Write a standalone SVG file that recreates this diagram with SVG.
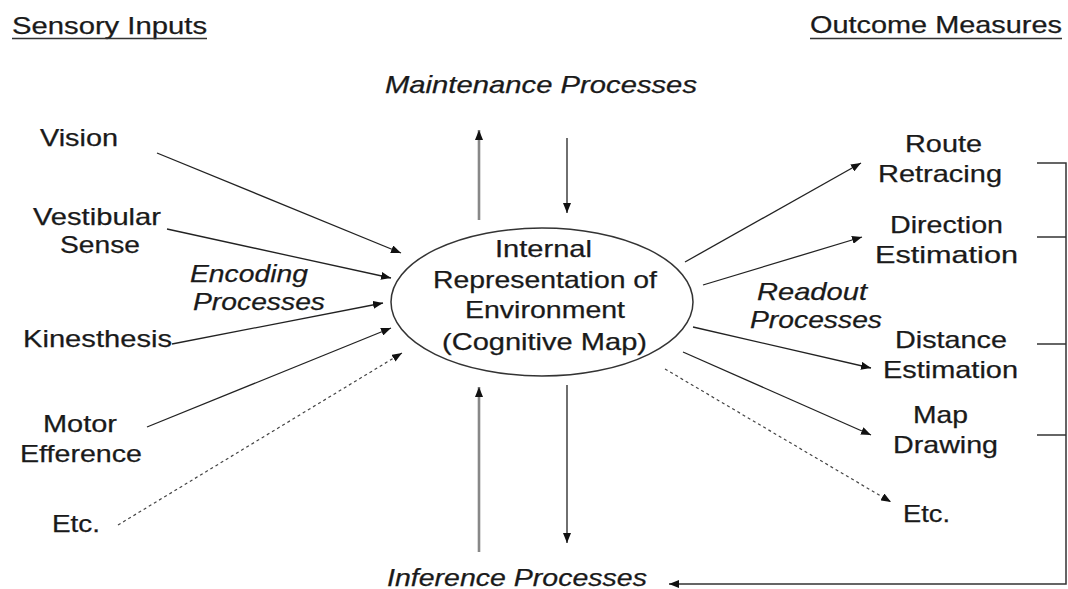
<svg xmlns="http://www.w3.org/2000/svg" width="1068" height="589" viewBox="0 0 1068 589">
<style>
text{font-family:"Liberation Sans",Arial,sans-serif;font-size:24px;fill:#1a1a1a;stroke:#1a1a1a;stroke-width:0.25}
.it{font-style:italic}
.ln{stroke:#222;stroke-width:1.3;fill:none}
.dot{stroke:#444;stroke-width:1.2;stroke-dasharray:3 3;fill:none}
.gr{stroke:#888;stroke-width:2.6;fill:none}
.br{stroke:#333;stroke-width:1.5;fill:none}
.ul{stroke:#333;stroke-width:1.5}
</style>
<defs>
<marker id="ah" viewBox="0 0 10 8" refX="10" refY="4" markerWidth="10" markerHeight="8" markerUnits="userSpaceOnUse" orient="auto">
<path d="M0,0 L10,4 L0,8 Z" fill="#111"/>
</marker>
</defs>
<rect width="1068" height="589" fill="#fff"/>
<g id="headers">
<text x="12" y="34" textLength="195" lengthAdjust="spacingAndGlyphs">Sensory Inputs</text>
<line class="ul" x1="12" y1="38.5" x2="207" y2="38.5"/>
<text x="810" y="33" textLength="252" lengthAdjust="spacingAndGlyphs">Outcome Measures</text>
<line class="ul" x1="810" y1="38.5" x2="1062" y2="38.5"/>
</g>
<g id="maintenance"><text class="it" x="385" y="93" textLength="312" lengthAdjust="spacingAndGlyphs">Maintenance Processes</text></g>
<g id="inference"><text class="it" x="387" y="586" textLength="260" lengthAdjust="spacingAndGlyphs">Inference Processes</text></g>
<g id="map">
<ellipse cx="542" cy="302" rx="151" ry="74" fill="none" stroke="#333" stroke-width="1.5"/>
<text x="495" y="257" textLength="97" lengthAdjust="spacingAndGlyphs">Internal</text>
<text x="433" y="288" textLength="224" lengthAdjust="spacingAndGlyphs">Representation of</text>
<text x="465" y="318" textLength="160" lengthAdjust="spacingAndGlyphs">Environment</text>
<text x="442" y="350" textLength="205" lengthAdjust="spacingAndGlyphs">(Cognitive Map)</text>
</g>
<g id="vision"><text x="40" y="146" textLength="78" lengthAdjust="spacingAndGlyphs">Vision</text></g>
<g id="vestibular">
<text x="33" y="225" textLength="128" lengthAdjust="spacingAndGlyphs">Vestibular</text>
<text x="60" y="253" textLength="80" lengthAdjust="spacingAndGlyphs">Sense</text>
</g>
<g id="encoding">
<text class="it" x="190" y="282" textLength="118" lengthAdjust="spacingAndGlyphs">Encoding</text>
<text class="it" x="193" y="310" textLength="132" lengthAdjust="spacingAndGlyphs">Processes</text>
</g>
<g id="kinesthesis"><text x="23" y="347" textLength="149" lengthAdjust="spacingAndGlyphs">Kinesthesis</text></g>
<g id="motor">
<text x="43" y="432" textLength="74" lengthAdjust="spacingAndGlyphs">Motor</text>
<text x="20" y="462" textLength="122" lengthAdjust="spacingAndGlyphs">Efference</text>
</g>
<g id="etc-left"><text x="52" y="532" textLength="48" lengthAdjust="spacingAndGlyphs">Etc.</text></g>
<g id="route">
<text x="905" y="152" textLength="77" lengthAdjust="spacingAndGlyphs">Route</text>
<text x="878" y="182" textLength="124" lengthAdjust="spacingAndGlyphs">Retracing</text>
</g>
<g id="direction">
<text x="890" y="233" textLength="113" lengthAdjust="spacingAndGlyphs">Direction</text>
<text x="875" y="263" textLength="143" lengthAdjust="spacingAndGlyphs">Estimation</text>
</g>
<g id="readout">
<text class="it" x="757" y="300" textLength="110" lengthAdjust="spacingAndGlyphs">Readout</text>
<text class="it" x="750" y="328" textLength="132" lengthAdjust="spacingAndGlyphs">Processes</text>
</g>
<g id="distance">
<text x="895" y="348" textLength="112" lengthAdjust="spacingAndGlyphs">Distance</text>
<text x="883" y="378" textLength="135" lengthAdjust="spacingAndGlyphs">Estimation</text>
</g>
<g id="mapdrawing">
<text x="913" y="423" textLength="55" lengthAdjust="spacingAndGlyphs">Map</text>
<text x="893" y="453" textLength="105" lengthAdjust="spacingAndGlyphs">Drawing</text>
</g>
<g id="etc-right"><text x="903" y="522" textLength="47" lengthAdjust="spacingAndGlyphs">Etc.</text></g>
<g id="connectors">
<line class="ln" x1="157" y1="153" x2="401" y2="253" marker-end="url(#ah)"/>
<line class="ln" x1="167" y1="229" x2="391" y2="278" marker-end="url(#ah)"/>
<line class="ln" x1="172" y1="344" x2="383" y2="303" marker-end="url(#ah)"/>
<line class="ln" x1="147" y1="427" x2="391" y2="328" marker-end="url(#ah)"/>
<line class="dot" x1="118" y1="525" x2="402" y2="353" marker-end="url(#ah)"/>
<line class="ln" x1="685" y1="262" x2="861" y2="163" marker-end="url(#ah)"/>
<line class="ln" x1="703" y1="285" x2="862" y2="237" marker-end="url(#ah)"/>
<line class="ln" x1="693" y1="327" x2="871" y2="368" marker-end="url(#ah)"/>
<line class="ln" x1="683" y1="352" x2="871" y2="435" marker-end="url(#ah)"/>
<line class="dot" x1="665" y1="369" x2="891" y2="502" marker-end="url(#ah)"/>
<line class="gr" x1="479" y1="220" x2="479" y2="130" marker-end="url(#ah)"/>
<line class="ln" x1="567" y1="138" x2="567" y2="213" marker-end="url(#ah)"/>
<line class="gr" x1="479" y1="552" x2="479" y2="387" marker-end="url(#ah)"/>
<line class="ln" x1="567" y1="385" x2="567" y2="543" marker-end="url(#ah)"/>
<path class="br" d="M1037,163 H1066 V584 H669" marker-end="url(#ah)"/>
<line class="br" x1="1037" y1="237" x2="1066" y2="237"/>
<line class="br" x1="1037" y1="344" x2="1066" y2="344"/>
<line class="br" x1="1037" y1="435" x2="1066" y2="435"/>
</g>
</svg>
